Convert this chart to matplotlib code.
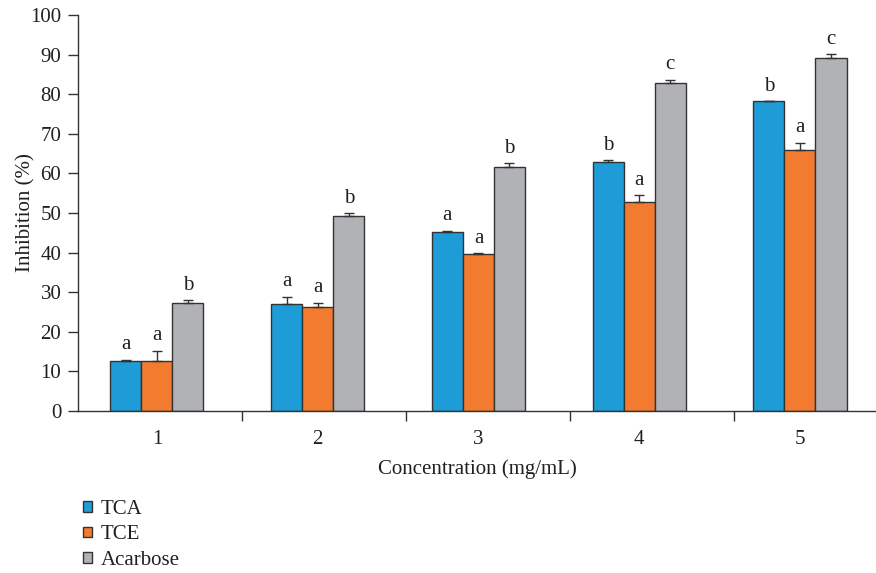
import numpy as np
import matplotlib
matplotlib.use("Agg")
import matplotlib.pyplot as plt

# inhibition (%) at each concentration, mean and upper error
concentrations = ["1", "2", "3", "4", "5"]
series_names = ["TCA", "TCE", "Acarbose"]
tca = [12.6, 27.0, 45.2, 63.0, 78.3]
tce = [12.7, 26.3, 39.6, 52.8, 66.0]
acarbose = [27.2, 49.3, 61.6, 82.8, 89.2]
tca_err = [0.3, 1.9, 0.3, 0.4, 0.0]
tce_err = [2.5, 1.0, 0.3, 1.7, 1.7]
acarbose_err = [0.8, 0.7, 1.0, 0.9, 0.9]
tca_letters = ["a", "a", "a", "b", "b"]
tce_letters = ["a", "a", "a", "a", "a"]
acarbose_letters = ["b", "b", "b", "c", "c"]

colors = ["#1e9cd7", "#f37b2f", "#b1b2b6"]
edge = "#333333"
txt = "#231f20"

plt.rcParams["font.family"] = ["Liberation Serif", "DejaVu Serif"]
plt.rcParams["font.size"] = 15

fig = plt.figure(figsize=(8.76, 5.73), dpi=100)
ax = fig.add_axes([78 / 876, 1 - 411 / 573, 1 - 78 / 876, 396 / 573])

x = np.arange(1, len(concentrations) + 1)
w = 0.193
values = [tca, tce, acarbose]
errors = [tca_err, tce_err, acarbose_err]
letters = [tca_letters, tce_letters, acarbose_letters]

for i, (vals, errs, labs) in enumerate(zip(values, errors, letters)):
    pos = x + (i - 1) * w
    ax.bar(pos, vals, width=w, color=colors[i], edgecolor=edge,
           linewidth=1.0, label=series_names[i], zorder=2)
    ax.errorbar(pos, vals, yerr=[np.zeros(len(errs)), errs], fmt="none",
                ecolor=edge, elinewidth=1.0, capsize=3.5, capthick=1.0, zorder=3)
    for p, v, e, l in zip(pos, vals, errs, labs):
        ax.annotate(l, (p, v + e), xytext=(0, 7.5), textcoords="offset points",
                    ha="center", va="baseline", color=txt, fontsize=15)

ax.set_xlim(0.509, 5.473)
ax.set_ylim(0, 100)
ax.set_yticks(np.arange(0, 101, 10))
ax.set_xticks(x)
ax.set_xticklabels(concentrations)
ax.tick_params(axis="x", which="major", length=0, pad=14, colors=txt)
ax.set_xticks([1.529, 2.549, 3.569, 4.589], minor=True)
ax.tick_params(axis="x", which="minor", length=7, width=1.0, color=edge, direction="out")
ax.tick_params(axis="y", length=7, width=1.0, color=edge, colors=txt, pad=5)
for s in ["top", "right"]:
    ax.spines[s].set_visible(False)
for s in ["left", "bottom"]:
    ax.spines[s].set_color(edge)
    ax.spines[s].set_linewidth(1.0)

ax.set_ylabel("Inhibition (%)", color=txt, labelpad=-4)
ax.set_xlabel("Concentration (mg/mL)", color=txt, labelpad=7)

fig.legend(loc="upper left", bbox_to_anchor=(64 / 876, 1 - 481 / 573),
           frameon=False, handlelength=0.42, handleheight=0.42,
           handletextpad=0.45, labelspacing=0.32, fontsize=15, labelcolor=txt)

fig.savefig("out.png", dpi=100)
